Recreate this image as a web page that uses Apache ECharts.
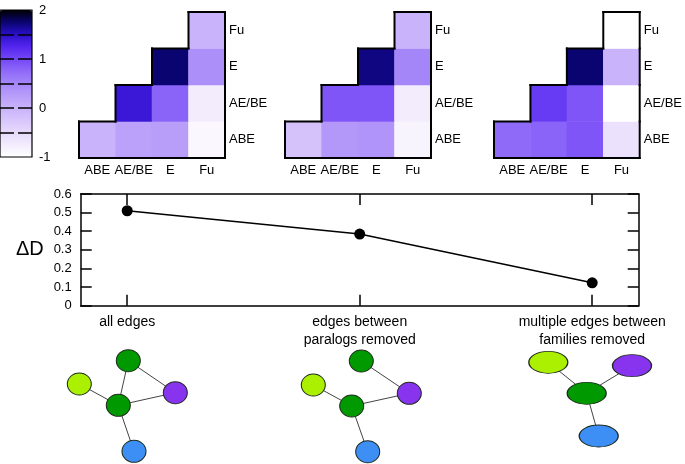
<!DOCTYPE html>
<html><head><meta charset="utf-8">
<script src="https://cdn.jsdelivr.net/npm/echarts@6/dist/echarts.min.js"></script>
<style>html,body{margin:0;padding:0;background:#fff}#c{width:685px;height:464px}</style>
</head><body><div id="c"></div>
<script>
// ---------------- data ----------------
const heatCats = ['ABE', 'AE/BE', 'E', 'Fu'];
const colorTicks = [-1, 0, 1, 2];
// rows: ABE, AE/BE, E, Fu (bottom to top); columns ABE, AE/BE, E, Fu
const panelAll = [
  [0.0, 0.2, 0.25, -0.9],
  [null, 1.4, 0.8, -0.75],
  [null, null, 1.75, 0.4],
  [null, null, null, 0.0]
];
const panelParalogs = [
  [-0.2, 0.3, 0.35, -0.85],
  [null, 0.9, 0.9, -0.75],
  [null, null, 1.7, 0.5],
  [null, null, null, 0.0]
];
const panelFamilies = [
  [0.75, 0.8, 0.9, -0.6],
  [null, 1.1, 0.9, -1.0],
  [null, null, 1.75, 0.0],
  [null, null, null, -1.0]
];
const conditions = ['all edges', 'edges between\nparalogs removed', 'multiple edges between\nfamilies removed'];
const deltaD = [0.51, 0.385, 0.123];

// network node positions (local units) and links
const net1Nodes = [[6.83, 1.57], [1.93, 3.9], [5.83, 6.03], [11.53, 4.77], [7.4, 10.63]];
const net1Links = [[0, 2], [1, 2], [2, 3], [0, 3], [2, 4]];
const net2Nodes = [[6.63, 1.6], [1.83, 4.0], [5.67, 6.1], [11.43, 4.83], [7.27, 10.67]];
const net2Links = [[0, 3], [1, 2], [2, 3], [2, 4]];
const net3Nodes = [[2.33, 1.73], [10.7, 2.07], [6.17, 4.83], [7.37, 9.1]];
const net3Links = [[0, 2], [1, 2], [2, 3]];
const net12Colors = ['#009900', '#aaf000', '#009900', '#8833ee', '#3d8ff5'];
const net3Colors = ['#aaf000', '#8833ee', '#009900', '#3d8ff5'];

// ---------------- build ----------------
const FONT = 'Liberation Sans, Arial, sans-serif';
const panels = [panelAll, panelParalogs, panelFamilies];
const heatLeft = [79, 285, 494];

function cells(m) {
  const out = [];
  m.forEach((row, y) => row.forEach((v, x) => { if (v !== null) out.push([x, y, v]); }));
  return out;
}

const grids = [{ left: 0, top: 10, width: 32, height: 147, show: true, borderColor: '#000', borderWidth: 1.2, backgroundColor: 'transparent', z: 10 }];
const xAxes = [{ gridIndex: 0, type: 'value', show: false, min: 0, max: 1 }];
const yAxes = [{
  gridIndex: 0, type: 'value', min: -1, max: 2, interval: 0.5, position: 'right', z: 10,
  axisLine: { show: false }, axisTick: { show: false },
  axisLabel: { color: '#000', fontSize: 13, fontFamily: FONT, margin: 7,
    formatter: v => colorTicks.indexOf(v) >= 0 ? String(v) : '' },
  splitLine: { show: true, showMinLine: false, showMaxLine: false, lineStyle: { color: '#000', width: 1.5, type: [14, 4] } }
}];
const series = [];

panels.forEach((m, i) => {
  grids.push({ left: heatLeft[i], top: 12, width: 146, height: 146 });
  xAxes.push({ gridIndex: i + 1, type: 'category', data: heatCats, axisLine: { show: false }, axisTick: { show: false },
    axisLabel: { color: '#000', fontSize: 13, fontFamily: FONT, margin: 6, interval: 0 }, splitLine: { show: false } });
  yAxes.push({ gridIndex: i + 1, type: 'category', data: heatCats, position: 'right', axisLine: { show: false }, axisTick: { show: false },
    axisLabel: { color: '#000', fontSize: 13, fontFamily: FONT, margin: 4, align: 'left', interval: 0 }, splitLine: { show: false } });
});
panels.forEach((m, i) => {
  series.push({ type: 'heatmap', xAxisIndex: i + 1, yAxisIndex: i + 1, data: cells(m), itemStyle: { borderWidth: 0 }, emphasis: { disabled: true } });
});
panels.forEach((m, i) => {
  const has = (x, y) => y >= 0 && y < m.length && x >= 0 && x < m[y].length && m[y][x] !== null;
  series.push({
    type: 'custom', xAxisIndex: i + 1, yAxisIndex: i + 1, data: cells(m), z: 5, silent: true,
    renderItem: function (params, api) {
      const x = api.value(0), y = api.value(1);
      const c = api.coord([x, y]);
      const s = api.size([1, 1]);
      const l = c[0] - s[0] / 2, r = c[0] + s[0] / 2, t = c[1] - s[1] / 2, b = c[1] + s[1] / 2;
      const st = { stroke: '#000', lineWidth: 2, lineCap: 'square' };
      const ch = [];
      if (!has(x - 1, y)) ch.push({ type: 'line', shape: { x1: l, y1: t, x2: l, y2: b }, style: st });
      if (!has(x + 1, y)) ch.push({ type: 'line', shape: { x1: r, y1: t, x2: r, y2: b }, style: st });
      if (!has(x, y + 1)) ch.push({ type: 'line', shape: { x1: l, y1: t, x2: r, y2: t }, style: st });
      if (!has(x, y - 1)) ch.push({ type: 'line', shape: { x1: l, y1: b, x2: r, y2: b }, style: st });
      return { type: 'group', children: ch };
    }
  });
});

// line chart (grid 4; x axes 4,5; y axes 4,5)
grids.push({ left: 80.7, top: 194, width: 558, height: 111.7 });
const lineX = { gridIndex: 4, type: 'value', min: 0.8, max: 3.2, splitLine: { show: false },
  axisLine: { show: true, onZero: false, lineStyle: { color: '#000', width: 1.5 } },
  axisTick: { show: true, inside: true, length: 11, lineStyle: { color: '#000', width: 1.5 }, customValues: conditions.map((c, i) => i + 1) } };
xAxes.push(Object.assign({}, lineX, { position: 'bottom',
  axisLabel: { color: '#000', fontSize: 14, fontFamily: FONT, margin: 7, lineHeight: 18, verticalAlign: 'top',
    customValues: conditions.map((c, i) => i + 1), formatter: v => conditions[Math.round(v) - 1] } }));
xAxes.push(Object.assign({}, lineX, { position: 'top', axisLabel: { show: false } }));
const lineY = { gridIndex: 4, type: 'value', min: 0, max: 0.6, interval: 0.1, splitLine: { show: false },
  axisLine: { show: true, onZero: false, lineStyle: { color: '#000', width: 1.5 } },
  axisTick: { show: true, inside: true, length: 11, lineStyle: { color: '#000', width: 1.5 } } };
yAxes.push(Object.assign({}, lineY, { position: 'left', name: 'ΔD', nameLocation: 'middle', nameRotate: 0, nameGap: 37,
  nameTextStyle: { color: '#000', fontSize: 20, fontFamily: FONT },
  axisLabel: { color: '#000', fontSize: 13, fontFamily: FONT, margin: 9, formatter: v => v === 0 ? '0' : v.toFixed(1) } }));
yAxes.push(Object.assign({}, lineY, { position: 'right', axisLabel: { show: false } }));
series.push({ type: 'line', xAxisIndex: 4, yAxisIndex: 4, data: deltaD.map((v, i) => [i + 1, v]),
  symbol: 'circle', symbolSize: 11, itemStyle: { color: '#000' }, lineStyle: { color: '#000', width: 1.5 }, silent: true });

// networks
const nets = [
  { nodes: net1Nodes, links: net1Links, colors: net12Colors, size: [24, 22], left: 60, w: 120, xmax: 12 },
  { nodes: net2Nodes, links: net2Links, colors: net12Colors, size: [24, 22], left: 295, w: 120, xmax: 12 },
  { nodes: net3Nodes, links: net3Links, colors: net3Colors, size: [39, 22], left: 525, w: 130, xmax: 13 }
];
nets.forEach((n, i) => {
  const gi = grids.length;
  grids.push({ left: n.left, top: 345, width: n.w, height: 110 });
  const xi = xAxes.length, yi = yAxes.length;
  xAxes.push({ gridIndex: gi, type: 'value', min: 0, max: n.xmax, show: false });
  yAxes.push({ gridIndex: gi, type: 'value', min: 0, max: 11, inverse: true, show: false });
  series.push({
    type: 'graph', coordinateSystem: 'cartesian2d', xAxisIndex: xi, yAxisIndex: yi, silent: true,
    symbol: 'circle',
    data: n.nodes.map((p, k) => ({ value: p, symbolSize: n.size, itemStyle: { color: n.colors[k], borderColor: '#1e2a1e', borderWidth: 1 } })),
    links: n.links.map(l => ({ source: l[0], target: l[1] })),
    lineStyle: { color: '#444', width: 1, opacity: 1 },
    label: { show: false }, emphasis: { disabled: true }
  });
});

const chart = echarts.init(document.getElementById('c'), null, { renderer: 'canvas' });
chart.setOption({
  animation: false,
  backgroundColor: '#fff',
  grid: grids, xAxis: xAxes, yAxis: yAxes,
  visualMap: {
    type: 'continuous', min: -1, max: 2, seriesIndex: [0, 1, 2], dimension: 2,
    orient: 'vertical', left: 0, top: 10, itemWidth: 32, itemHeight: 147, padding: 0,
    calculable: false, text: null, hoverLink: false, z: 4,
    inRange: { color: ['#ffffff', '#f3ecfd', '#e6dafc', '#d8c6fb', '#c9b3fa', '#b89df9', '#a586f9', '#8f6af8', '#7447f6', '#5426ee', '#2a0fc8', '#0a0470', '#000000'] }
  },
  series: series
});
</script></body></html>
